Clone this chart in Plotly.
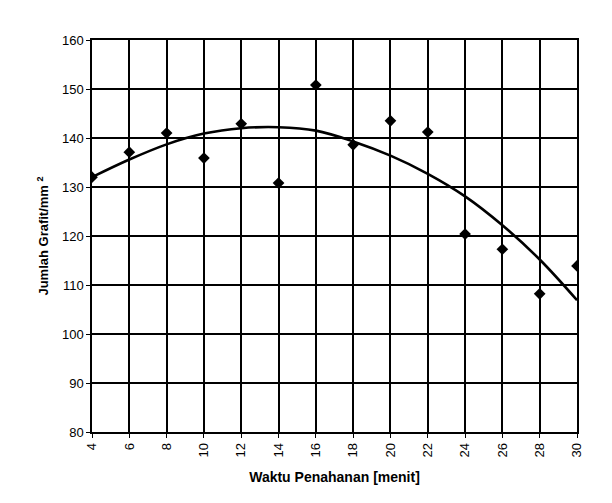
import plotly.graph_objects as go

# Data
waktu = [4, 6, 8, 10, 12, 14, 16, 18, 20, 22, 24, 26, 28, 30]
jumlah = [132.0, 137.1, 141.0, 135.9, 142.9, 130.8, 150.8, 138.6, 143.5, 141.2, 120.4, 117.3, 108.2, 113.9]
# trend curve
trend_x = [4, 6, 8, 10, 12, 14, 16, 18, 20, 22, 24, 26, 28, 30]
trend_y = [132.0, 135.6, 138.7, 140.9, 142.0, 142.2, 141.5, 139.3, 136.4, 132.7, 128.1, 122.2, 115.2, 106.9]
x_ticks = [4, 6, 8, 10, 12, 14, 16, 18, 20, 22, 24, 26, 28, 30]
y_ticks = [80, 90, 100, 110, 120, 130, 140, 150, 160]

font = "Liberation Sans, Arial, sans-serif"

fig = go.Figure()
fig.add_trace(go.Scatter(
    x=trend_x, y=trend_y, mode="lines",
    line=dict(color="black", width=2.6, shape="spline", smoothing=1.0),
    hoverinfo="skip", showlegend=False))
fig.add_trace(go.Scatter(
    x=waktu, y=jumlah, mode="markers",
    marker=dict(symbol="diamond", size=9, color="black"),
    showlegend=False))

fig.update_layout(
    width=612, height=503,
    margin=dict(l=92, r=35, t=40, b=71),
    paper_bgcolor="white", plot_bgcolor="white",
    font=dict(family=font, size=12, color="black"),
    xaxis=dict(
        range=[4, 30], tickmode="array", tickvals=x_ticks,
        ticktext=[str(v) for v in x_ticks], tickangle=-90,
        showgrid=True, gridcolor="black", gridwidth=1.5,
        showline=True, linecolor="black", linewidth=1.5, mirror=True,
        ticks="outside", ticklen=4, tickcolor="black", zeroline=False,
        title=dict(text="<b>Waktu Penahanan [menit]</b>", standoff=16,
                   font=dict(family=font, size=14, color="black")),
        tickfont=dict(family=font, size=13, color="black"),
    ),
    yaxis=dict(
        range=[80, 160], tickmode="array", tickvals=y_ticks,
        showgrid=True, gridcolor="black", gridwidth=1.5,
        showline=True, linecolor="black", linewidth=1.5, mirror=True,
        ticks="outside", ticklen=4, tickcolor="black", zeroline=False,
        title=dict(text="<b>Jumlah Grafit/mm <sup>2</sup></b>", standoff=10,
                   font=dict(family=font, size=13, color="black")),
        tickfont=dict(family=font, size=13, color="black"),
    ),
)

fig.write_html("out.html")
